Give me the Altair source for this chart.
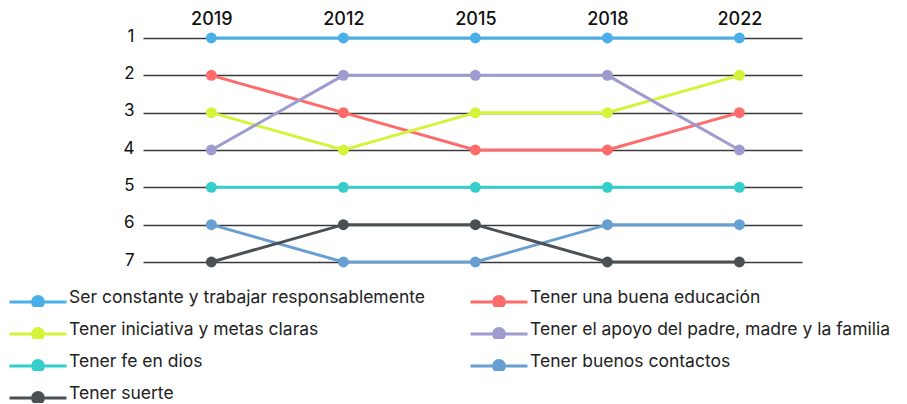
import altair as alt
import pandas as pd

years = ["2019", "2012", "2015", "2018", "2022"]
series = [
    "Ser constante y trabajar responsablemente",
    "Tener una buena educación",
    "Tener iniciativa y metas claras",
    "Tener el apoyo del padre, madre y la familia",
    "Tener fe en dios",
    "Tener buenos contactos",
    "Tener suerte",
]
ranks = [
    [1, 1, 1, 1, 1],
    [2, 3, 4, 4, 3],
    [3, 4, 3, 3, 2],
    [4, 2, 2, 2, 4],
    [5, 5, 5, 5, 5],
    [6, 7, 7, 6, 6],
    [7, 6, 6, 7, 7],
]
colors = ["#4aafe8", "#fd6b6b", "#d4f43a", "#9d9bd0", "#35cfcb", "#689fd2", "#4b5054"]

rows = []
for s, r in zip(series, ranks):
    for y, v in zip(years, r):
        rows.append({"serie": s, "anio": y, "rank": v})
df = pd.DataFrame(rows)

FONT = "Inter"
scale_c = alt.Scale(domain=series, range=colors)
x_enc = alt.X("anio:O", sort=years,
              scale=alt.Scale(type="point", padding=0.496, align=0.522),
              axis=alt.Axis(orient="top", title=None, labelAngle=0, ticks=False,
                            domain=False, labelFontSize=18, labelFontWeight=500,
                            labelPadding=10, labelColor="#111", labelFont=FONT))
y_enc = alt.Y("rank:Q", scale=alt.Scale(domain=[1, 7], reverse=True, nice=False, zero=False),
              axis=alt.Axis(title=None, values=[1, 2, 3, 4, 5, 6, 7], ticks=False, domain=False,
                            grid=True, gridColor="#3a3a3a", gridWidth=1.5,
                            labelFontSize=17, labelPadding=9, labelColor="#111",
                            labelFont=FONT, labelBaseline="alphabetic", labelOffset=3))

sym = "M-1,0.14L1,0.14M-0.19,0.14A0.19,0.19,0,1,0,0.19,0.14A0.19,0.19,0,1,0,-0.19,0.14Z"

lines = alt.Chart(df).mark_line(strokeWidth=3).encode(
    x=x_enc, y=y_enc,
    stroke=alt.Stroke("serie:N", scale=scale_c, sort=series, legend=alt.Legend(title=None)),
)
points = alt.Chart(df).mark_circle(size=120, opacity=1).encode(
    x=x_enc, y=y_enc,
    fill=alt.Fill("serie:N", scale=scale_c, sort=series, legend=alt.Legend(title=None)),
)

chart = alt.layer(lines, points).properties(
    width=659, height=224,
    autosize=alt.AutoSizeParams(type="none"),
    padding={"left": 135, "top": 30, "right": 97, "bottom": 142},
).configure_view(stroke=None).configure_legend(
    orient="none", legendX=-135, legendY=251, columns=2, columnPadding=44,
    direction="horizontal", padding=0,
    rowPadding=14, symbolType=sym, symbolSize=3249, symbolStrokeWidth=3,
    clipHeight=18, labelFont=FONT, labelFontSize=17.5, labelColor="#222",
    labelOffset=1, labelLimit=600,
)

chart.save("out.html", embed_options={"renderer": "svg", "actions": False})
